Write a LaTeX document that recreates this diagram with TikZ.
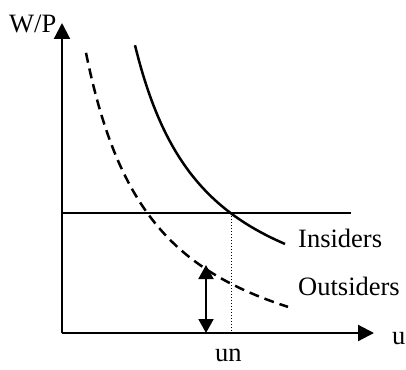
\documentclass[tikz,border=0pt]{standalone}
\usepackage{fontspec}
\setmainfont{Liberation Serif}
\usetikzlibrary{arrows.meta}
\tikzset{
  axis/.style={line width=2.2pt, -{Triangle[length=16pt,width=16pt]}},
  curve/.style={line width=2.5pt},
  dashcurve/.style={line width=2.5pt, dash pattern=on 10pt off 6pt},
  dotline/.style={line width=1pt, dash pattern=on 1pt off 2pt},
  dblarrow/.style={line width=2pt, {Triangle[length=14pt,width=15pt]}-{Triangle[length=14pt,width=15pt]}},
  lbl/.style={inner sep=0pt, anchor=base west, font=\fontsize{26.5}{30}\selectfont}
}
\begin{document}
\begin{tikzpicture}[x=1pt,y=-1pt]
\useasboundingbox (0,0) rectangle (406,369);
\coordinate (O) at (62,333);
\coordinate (ytop) at (62,23);
\coordinate (xend) at (374,333);
\coordinate (hl) at (62,213);
\coordinate (hr) at (351,213);
\coordinate (dtop) at (231,213);
\coordinate (dbot) at (231,333);
\coordinate (atop) at (206,265);
\coordinate (abot) at (206,333);
% curves
\draw[curve] plot[domain=135:285, samples=80, smooth] (\x, {339-210.8/((\x-63.25)/100)});
\draw[dashcurve] plot[domain=86:288, samples=80, smooth] (\x, {394-236.4/((\x-16.7)/100)});
% lines
\draw[line width=1.8pt] (hl) -- (hr);
\draw[dotline] (dtop) -- (dbot);
\draw[dblarrow] (atop) -- (abot);
% axes
\draw[axis] (O) -- (ytop);
\draw[axis] (O) -- (xend);
% labels
\node[lbl] (wp) at (9,33) {W/P};
\node[lbl] (ins) at (298,247) {Insiders};
\node[lbl] (outs) at (298,295) {Outsiders};
\node[lbl] (u) at (392,344) {u};
\node[lbl] (un) at (215,361) {un};
\end{tikzpicture}
\end{document}
